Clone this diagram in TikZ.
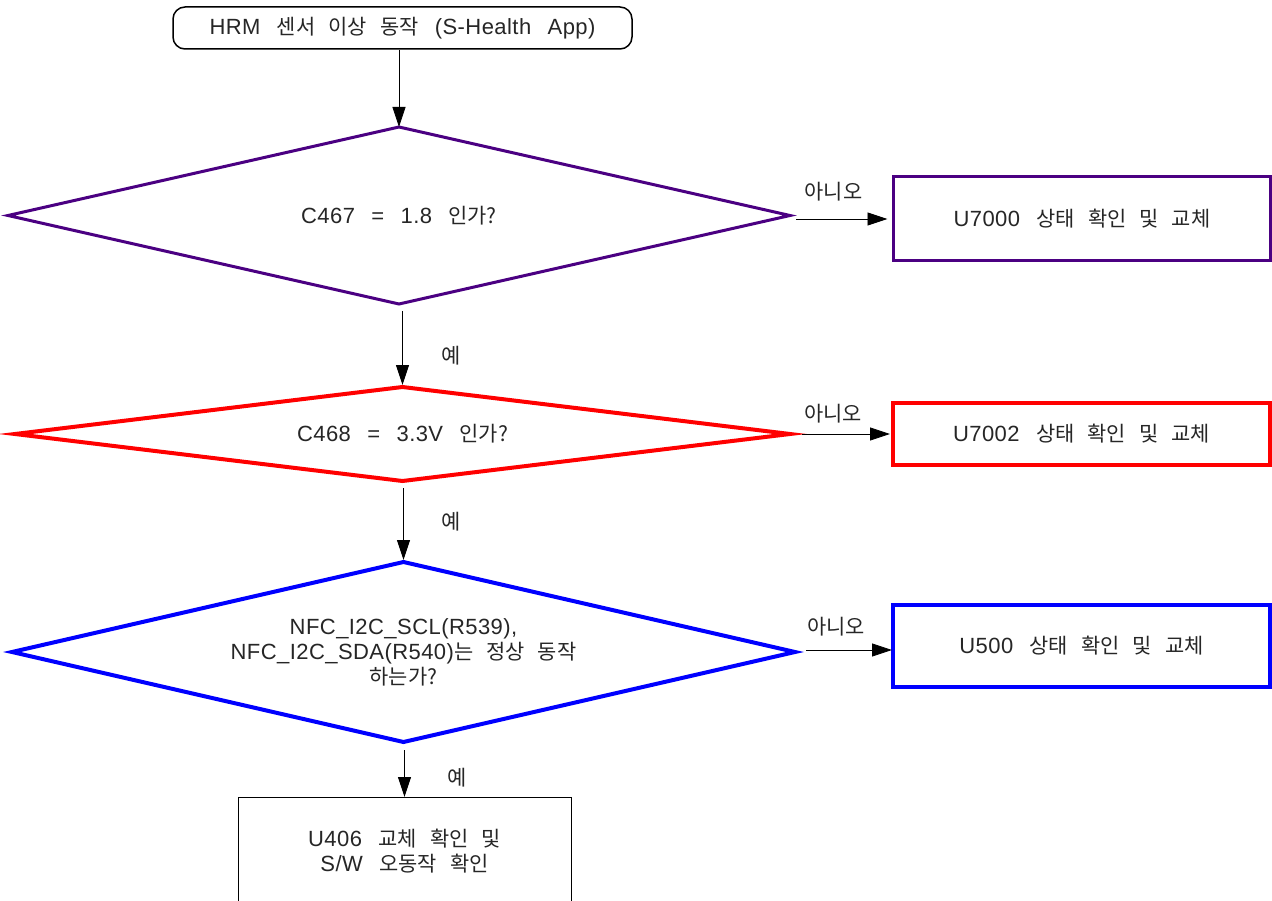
\documentclass[tikz,border=0pt]{standalone}
\usepackage{fontspec}
\setmainfont{Liberation Sans}[WordSpace=2.5,LetterSpace=2]
\newfontfamily\hkfont{Noto Sans CJK KR}[WordSpace=2.8,Scale=0.95]
\newcommand\hk[1]{{\hkfont #1}}
\usetikzlibrary{shapes.geometric,arrows.meta}
\definecolor{dpurple}{HTML}{4B0082}
\begin{document}
\begin{tikzpicture}[x=1pt,y=-1pt,
  font=\fontsize{22}{25}\selectfont,
  every node/.style={inner sep=0pt, outer sep=0pt, text=black!85},
  startbox/.style={draw=black, line width=1.5pt, rounded corners=12pt, minimum width=459pt, minimum height=42pt},
  decision/.style={diamond, aspect=4.4, align=center},
  actbox/.style={draw, rectangle, minimum width=377pt, align=center},
  arr/.style={draw=black, line width=0.8pt, -{Triangle[length=20pt,width=13pt]}},
  lbl/.style={font=\fontsize{22}{25}\selectfont\hkfont}
]
\clip (0,0) rectangle (1272,901);
\fill[white] (0,0) rectangle (1272,901);

\node[startbox] (start) at (402.5,28) {HRM \hk{센서 이상 동작} (S-Health App)};

\node[decision, draw=dpurple, line width=3pt, minimum width=782pt, minimum height=177pt] (d1) at (399,215.5) {C467 = 1.8 \hk{인가?}};
\node[decision, draw=red, line width=4pt, minimum width=775pt, minimum height=94pt] (d2) at (402.5,434) {C468 = 3.3V \hk{인가?}};
\node[decision, draw=blue, line width=4pt, minimum width=783pt, minimum height=180pt] (d3) at (403.5,652) {NFC\_I2C\_SCL(R539),\\NFC\_I2C\_SDA(R540)\hk{는 정상 동작}\\\hk{하는가?}};

\node[actbox, draw=dpurple, line width=3pt, minimum height=84pt] (b1) at (1082,219) {U7000 \hk{상태 확인 및 교체}};
\node[actbox, draw=red, line width=4pt, minimum height=62pt] (b2) at (1081.5,434) {U7002 \hk{상태 확인 및 교체}};
\node[actbox, draw=blue, line width=4pt, minimum height=82pt] (b3) at (1081.5,646) {U500 \hk{상태 확인 및 교체}};
\node[actbox, draw=black, line width=1pt, minimum width=333pt, minimum height=108pt] (b4) at (404.5,851) {U406 \hk{교체 확인 및}\\S/W \hk{오동작 확인}};

% vertical arrows
\draw[arr, shorten <=1pt] (start.south -| d1.north) -- (d1.north);
\draw[arr, shorten <=7pt, shorten >=2pt] (d2.north |- d1.south) -- (d2.north)
  node[lbl, pos=0.62, right=39pt] {예};
\draw[arr, shorten <=7pt, shorten >=2pt] (d3.north |- d2.south) -- (d3.north)
  node[lbl, midway, right=38pt] {예};
\draw[arr, shorten <=8pt] (b4.north |- d3.south) -- (b4.north)
  node[lbl, pos=0.65, right=43pt] {예};

% horizontal arrows
\draw[arr, shorten <=6pt, shorten >=6pt] (b1.west -| d1.east) -- (b1.west)
  node[lbl, pos=0.42, above=18pt] {아니오};
\draw[arr, shorten <=12pt, shorten >=3pt] (b2.west -| d2.east) -- (b2.west)
  node[lbl, pos=0.42, above=11pt] {아니오};
\draw[arr, shorten <=11pt, shorten >=1pt] ([yshift=-4pt]b3.west -| d3.east) -- ([yshift=-4pt]b3.west)
  node[lbl, pos=0.42, above=14pt] {아니오};
\end{tikzpicture}
\end{document}
